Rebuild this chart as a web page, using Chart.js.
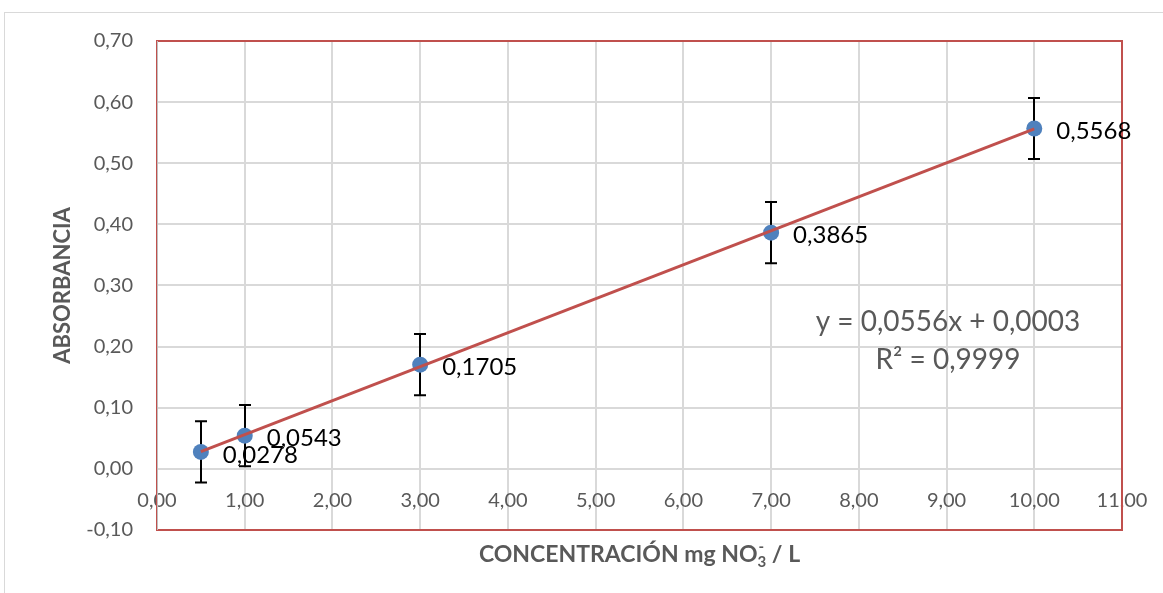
<!DOCTYPE html>
<html>
<head>
<meta charset="utf-8">
<script src="https://cdn.jsdelivr.net/npm/chart.js@4.4.0/dist/chart.umd.min.js"></script>
<style>
html,body{margin:0;padding:0;background:#ffffff;}
#wrap{width:1163px;height:593px;position:relative;}
</style>
</head>
<body>
<div id="wrap"><canvas id="c" width="1163" height="593"></canvas></div>
<script>
// ---- data ----
const concentrations = [0.5, 1, 3, 7, 10];
const absorbances = [0.0278, 0.0543, 0.1705, 0.3865, 0.5568];
const errorAmounts = [0.05, 0.05, 0.05, 0.05, 0.05];
const pointLabels = ['0,0278', '0,0543', '0,1705', '0,3865', '0,5568'];
const trendX = [0.5, 10];
const trendY = [0.0281, 0.5563];
const xTickValues = [0, 1, 2, 3, 4, 5, 6, 7, 8, 9, 10, 11];
const yTickValues = [-0.1, 0, 0.1, 0.2, 0.3, 0.4, 0.5, 0.6, 0.7];
const equationLines = ['y = 0,0556x + 0,0003', 'R² = 0,9999'];
const yTitle = 'ABSORBANCIA';
const xTitleParts = ['CONCENTRACIÓN mg NO', '3', '-', ' / L'];

const FONT = "Lato, 'Open Sans', 'DejaVu Sans', sans-serif";
const fmt = v => Number(v).toFixed(2).replace('.', ',');

const extrasPlugin = {
  id: 'extras',
  beforeDraw(chart) {
    const ctx = chart.ctx;
    ctx.save();
    ctx.fillStyle = '#ffffff';
    ctx.fillRect(0, 0, chart.width, chart.height);
    ctx.strokeStyle = '#d9d9d9';
    ctx.lineWidth = 1;
    ctx.strokeRect(4.5, 12.5, chart.width + 10, chart.height + 10);
    ctx.restore();
  },
  beforeDatasetsDraw(chart) {
    const {ctx, chartArea: a, scales: {x, y}} = chart;
    ctx.save();
    // plot-area border
    ctx.strokeStyle = '#c0504d';
    ctx.lineWidth = 2;
    ctx.strokeRect(a.left, a.top, a.right - a.left, a.bottom - a.top);
    // gray value-axis line on the left edge
    ctx.strokeStyle = '#bfbfbf';
    ctx.lineWidth = 1;
    ctx.beginPath();
    ctx.moveTo(a.left + 0.5, a.top); ctx.lineTo(a.left + 0.5, a.bottom);
    ctx.stroke();
    // error bars
    ctx.strokeStyle = '#000000';
    ctx.lineWidth = 2;
    concentrations.forEach((cx, i) => {
      const px = Math.round(x.getPixelForValue(cx));
      const top = y.getPixelForValue(absorbances[i] + errorAmounts[i]);
      const bot = y.getPixelForValue(absorbances[i] - errorAmounts[i]);
      ctx.beginPath();
      ctx.moveTo(px, top); ctx.lineTo(px, bot);
      ctx.moveTo(px - 6, top); ctx.lineTo(px + 6, top);
      ctx.moveTo(px - 6, bot); ctx.lineTo(px + 6, bot);
      ctx.stroke();
    });
    ctx.restore();
  },
  afterDatasetsDraw(chart) {
    const {ctx, chartArea: a, scales: {x, y}} = chart;
    ctx.save();
    // data labels
    ctx.fillStyle = '#000000';
    ctx.font = "24px " + FONT;
    ctx.textAlign = 'left';
    ctx.textBaseline = 'middle';
    concentrations.forEach((cx, i) => {
      const px = x.getPixelForValue(cx);
      const py = y.getPixelForValue(absorbances[i]);
      ctx.fillText(pointLabels[i], px + 22, py + 3);
    });
    // equation
    ctx.fillStyle = '#595959';
    ctx.font = "28px " + FONT;
    ctx.textAlign = 'center';
    ctx.fillText(equationLines[0], 948, 322);
    ctx.fillText(equationLines[1], 948, 360);
    // x title with subscript/superscript
    const big = "bold 23px " + FONT, small = "bold 15px " + FONT;
    ctx.font = big; const w0 = ctx.measureText(xTitleParts[0]).width;
    const w3 = ctx.measureText(xTitleParts[3]).width;
    ctx.font = small; const w1 = ctx.measureText(xTitleParts[1]).width;
    const w2 = ctx.measureText(xTitleParts[2]).width;
    const total = w0 + Math.max(w1, w2) + w3;
    let sx = (a.left + a.right) / 2 - total / 2;
    const ty = 555;
    ctx.textAlign = 'left';
    ctx.textBaseline = 'middle';
    ctx.fillStyle = '#595959';
    ctx.font = big; ctx.fillText(xTitleParts[0], sx, ty); sx += w0;
    ctx.font = small; ctx.fillText(xTitleParts[1], sx, ty + 7);
    ctx.fillText(xTitleParts[2], sx + 1, ty - 8); sx += Math.max(w1, w2);
    ctx.font = big; ctx.fillText(xTitleParts[3], sx, ty);
    ctx.restore();
  }
};

new Chart(document.getElementById('c'), {
  data: {
    datasets: [
      {
        type: 'line',
        label: 'Tendencia',
        data: trendX.map((v, i) => ({x: v, y: trendY[i]})),
        borderColor: '#c0504d',
        borderWidth: 3,
        pointRadius: 0,
        fill: false,
        order: 0
      },
      {
        type: 'scatter',
        label: 'Absorbancia',
        data: concentrations.map((v, i) => ({x: v, y: absorbances[i]})),
        backgroundColor: '#4f81bd',
        borderColor: '#4f81bd',
        pointRadius: 8,
        borderWidth: 0,
        order: 1
      }
    ]
  },
  options: {
    responsive: false,
    devicePixelRatio: 1,
    animation: false,
    layout: {padding: {left: 4, top: 41, right: 41, bottom: 63}},
    plugins: {legend: {display: false}, tooltip: {enabled: false}},
    scales: {
      x: {
        type: 'linear',
        position: {y: 0},
        min: 0, max: 11,
        afterBuildTicks: s => { s.ticks = xTickValues.map(v => ({value: v})); },
        afterFit: s => { s.paddingLeft = 0; s.paddingRight = 0; s.paddingTop = 0; s.paddingBottom = 0; },
        ticks: {
          callback: v => fmt(v),
          color: '#595959',
          font: {family: FONT, size: 20},
          padding: 20,
          maxRotation: 0,
          autoSkip: false
        },
        grid: {color: '#d9d9d9', lineWidth: 2, drawTicks: false},
        border: {display: false}
      },
      y: {
        type: 'linear',
        position: 'left',
        min: -0.1, max: 0.7,
        afterBuildTicks: s => { s.ticks = yTickValues.map(v => ({value: v})); },
        afterFit: s => { s.width = 153; s.paddingTop = 0; s.paddingBottom = 0; },
        ticks: {
          callback: v => fmt(v),
          color: '#595959',
          font: {family: FONT, size: 20},
          padding: 24
        },
        grid: {color: '#d9d9d9', lineWidth: 2, drawTicks: false},
        border: {display: false},
        title: {
          display: true,
          text: yTitle,
          color: '#595959',
          font: {family: FONT, size: 22, weight: 'bold'},
          padding: {top: 46, bottom: 0}
        }
      }
    }
  },
  plugins: [extrasPlugin]
});
</script>
</body>
</html>
